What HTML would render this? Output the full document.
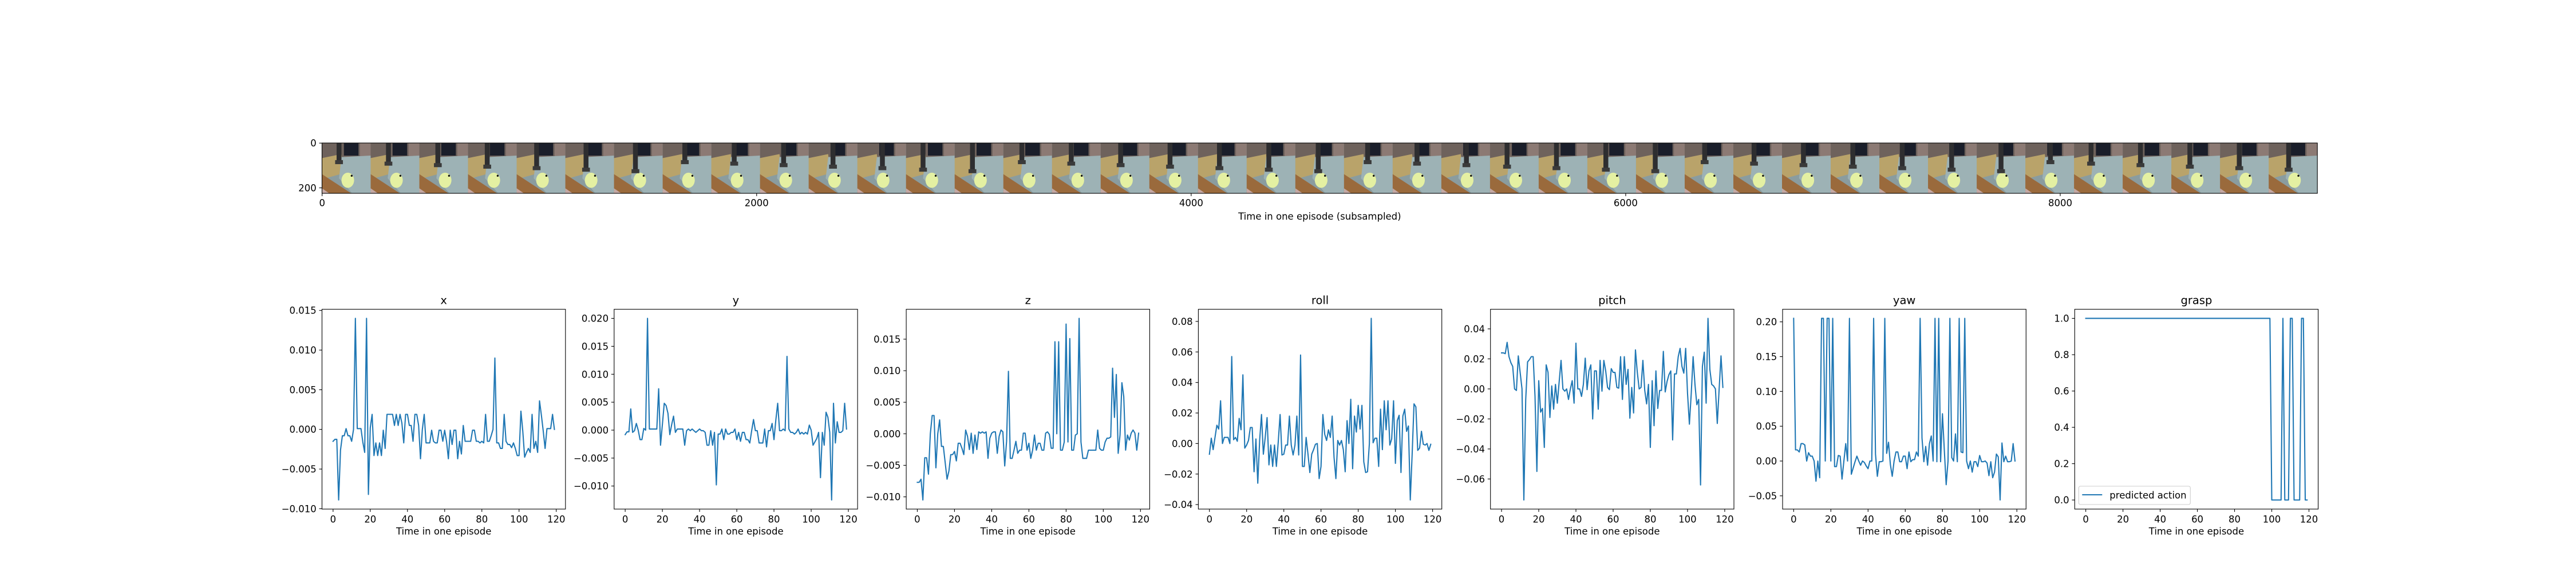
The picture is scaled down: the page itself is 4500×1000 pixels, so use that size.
<!DOCTYPE html>
<html><head><meta charset="utf-8">
<style>
html,body{margin:0;padding:0;background:#fff;}
svg{display:block;font-family:"DejaVu Sans","Liberation Sans",sans-serif;}
</style></head>
<body>
<svg id="fig" width="4500" height="1000" viewBox="0 0 4500 1000" xmlns="http://www.w3.org/2000/svg">
<rect width="4500" height="1000" fill="#fff"/>
<defs>
<clipPath id="stripClip"><rect x="562.5" y="250" width="3485.7" height="88"/></clipPath>
</defs>
<g id="strip"></g>
<g id="panels"></g>
</svg>
<script>
// ---------- data ----------
const panelTitles = ["x","y","z","roll","pitch","yaw","grasp"];
const xVals = [-1.5,-1.25,-1.25,-8.9,-2.6,-0.8,-0.8,0.1,-0.8,-0.8,-1.5,0,14,0.1,0.1,0.1,-1.6,-2.9,14,-8.2,0.2,1.9,-3.3,-1.7,-3.3,-1.7,-3.3,-0.1,-2.4,1.9,1.9,1.9,1.9,0.5,1.9,0.5,1.9,0.8,-1.7,1.9,1.9,0.5,0.5,-1.5,1.9,1.9,0.5,-3.7,0,1.9,-1.7,-1.7,-1.7,-0.1,-1.5,-1.7,-1.7,-0.1,-0.1,-1.5,-0.1,-1.5,-3.7,-0.1,-1.9,-0.1,-0.1,-3.7,-1.5,-3.1,0.5,-1.5,-1.5,-1.5,-1.5,-0.1,-0.1,-1.5,-1.5,-1.7,-1.5,-1.7,1.9,-1.5,-1.5,-0.8,0,9,-1.7,-1.7,-2.4,-2.4,1.9,-1.5,-1.9,-1.9,-2.3,-1.7,-2.4,-3.3,-3.3,2.3,-0.2,-3.5,-2.9,-2.4,-2.9,1.9,-2.4,-1.5,-2.9,3.6,1.8,-0.2,-2.4,0.1,0.1,0.1,1.9,0];
const yVals = [-0.8,-0.3,-0.3,3.8,-0.4,-0.1,1.2,0,-1.7,-1.7,0.3,0,20,0.2,0.2,0.2,0.2,0.2,7.4,-2.7,1,4.8,4.4,3,-0.8,1,2.5,-0.4,0.2,0.2,0.2,0.2,-2.7,-0.1,0.2,-0.1,0.2,-0.1,-0.4,-0.1,0.2,-0.1,-0.1,-0.4,-2.7,-2.7,-0.1,-2.7,-0.4,-9.8,-0.7,-0.7,0.2,-1.7,0.2,-0.7,-0.7,-0.4,-0.4,0.2,-1.7,-0.4,-2,-0.4,-0.4,-1.7,-1.7,-2.3,-0.1,1.9,-0.1,-0.1,-2.3,-2.3,-2.3,0.2,-3,-0.1,-0.1,1.2,-1.7,1.8,4.8,-0.1,-0.1,0.2,-0.1,13.2,0.2,-0.4,-0.4,-0.7,-0.4,0.2,-0.7,-0.4,-0.7,-0.4,-0.7,0.9,0,-2.7,-2.1,-1.5,-0.4,-8.5,-0.4,-2.7,3.2,2.3,-0.4,-12.5,4.8,-2.3,1.5,-0.4,-0.4,-0.1,4.8,0.2];
const zVals = [-7.7,-7.7,-7.2,-10.5,-3.8,-3.8,-6.4,0,2.9,2.9,-5.4,0,2.2,-2,-2,-4.6,-7.2,-5.9,-3.3,-3.3,-2.8,-4.3,-1.5,-1.5,-2.3,-3.3,0.6,-0.4,-2.5,0.1,-3.1,-0.2,-2.5,0.3,0.1,0.3,0.1,0.3,-3.9,-0.7,0.1,0.3,0.3,-3.1,-0.4,0.6,0.3,-5.1,-1.2,9.9,-3.9,-3.9,-2.6,-1.2,-3.1,-2.6,-2.6,0.1,0.1,-2.6,-1.5,-3.9,-2.6,-0.2,-2.6,-1.5,-1.5,-2.6,-2.6,0.1,0.3,-0.1,-2.3,-2.3,14.6,0,14.6,-2.6,-2.6,-1.3,17.4,-1.3,15.1,-2.6,-2.6,-0.2,0,18.3,-1.3,-3.9,-3.9,-3.9,-2.6,-2.6,-2.6,-2.6,-2.6,0.6,-2.3,-2.6,-2.6,-1.3,-0.7,-0.7,-0.5,10.4,2.6,9.4,-3.1,-0.2,8.1,5.9,-2.6,-0.2,-1,0.1,0.6,0.1,-2.6,0.1];
const rollVals = [-0.7,0.35,-0.4,0.4,1.2,0.95,2.8,0,0.4,0.4,0.4,0,5.7,0.25,0.4,0.15,1.65,0.9,4.5,-0.3,-0.1,0.2,1.05,1.05,-1.85,0.3,-2.6,0.2,1.9,-0.7,0.4,1.7,-1.4,-0.1,-1.5,-0.1,-1.5,0.1,1.9,-0.75,-0.7,-0.1,-0.1,1.8,-0.1,-0.75,-0.1,1.8,-0.75,5.8,-1.5,-1.5,0.4,-0.7,-1.9,-0.7,-0.4,-0.05,0,-2.3,-1.5,1.9,0.6,0.2,0.9,0.4,1.8,-0.9,-2.3,0.2,-0.1,0.2,-0.4,-1.85,1.5,0,2.9,-1.65,1.8,0.75,2.5,0.95,2.5,-1.2,-1.9,-1.85,0,8.2,0.05,0.35,0.35,-1.5,2.25,-0.4,2.8,0.9,2.8,-0.1,0.3,2.8,-1.3,1.5,1.85,-1.9,1.8,2.25,0.8,1.15,-3.7,-0.7,2.6,2.4,-0.45,-0.3,0.8,-0.05,-0.1,0,-0.45,-0.05];
const pitchVals = [2.4,2.4,2.35,3.1,2.15,1.75,1.5,0,-0.1,2.2,1.1,0,-7.4,-0.7,1.8,1.95,2.15,2.15,-0.5,-5.5,0.55,-1.55,-1.3,-3.9,1.6,1.1,-1.9,0.2,-1.35,0.3,-0.95,0.5,1.9,0,-0.15,0,-0.7,0,0.55,-0.95,3.05,0,0,-0.5,0.3,2.05,-0.05,1.2,1.6,-2,1.2,1.2,-1.35,1.9,-0.15,1.9,1.2,0.1,-0.05,1.35,1.1,1.1,0.1,0.05,2.15,-0.7,2.15,0.3,1.3,-1.95,0.1,-1.6,2.6,1.1,0,0.1,1.9,-0.1,-1,0.3,-3.9,0.55,-2.45,1.2,-1.3,-0.1,-0.1,2.5,-0.2,0.5,0.95,1.2,-3.4,1,1,2.15,2.7,1.5,1.05,2.7,-0.3,-2.35,-0.3,2.15,0.3,-1.05,-0.7,-6.4,1.5,2.45,-0.95,4.7,1.3,0.3,0.2,0,-2.3,0,2.2,0.1];
const yawVals = [20.5,1.6,1.6,1.3,2.5,2.5,2.3,0,1.2,0.7,0.7,0,-2.9,0,-2.4,20.5,20.5,0,20.5,20.5,0,20.5,-0.8,-0.8,0.8,0.7,-2.6,0,2.5,0,20.5,-1.9,-1,-0.1,0.7,0,-0.6,0,-0.2,-0.7,-1.1,0,0,20.5,1,-2.2,-0.1,-0.1,0,20.5,1.1,2.7,-0.5,-2.2,0,1.3,1.3,-0.1,-0.1,0.7,0.7,-1.1,1.3,-0.1,0.2,0.2,1.3,0.7,20.5,3.3,-0.1,2.1,-0.6,2.5,3.6,0,20.5,-0.1,20.5,-0.1,6.8,1.6,-3.4,0,20.5,0.5,0,3.9,-0.1,20.5,1.3,1.2,20.5,0,-1.1,0,-1.6,-0.1,-0.1,-0.8,0.8,-0.1,-0.1,0,-0.3,-2.1,-0.1,-2.4,-1.6,1,0.6,-5.6,2.6,-0.1,0.7,-0.1,-0.1,0,2.5,0];
const graspVals = [1,1,1,1,1,1,1,1,1,1,1,1,1,1,1,1,1,1,1,1,1,1,1,1,1,1,1,1,1,1,1,1,1,1,1,1,1,1,1,1,1,1,1,1,1,1,1,1,1,1,1,1,1,1,1,1,1,1,1,1,1,1,1,1,1,1,1,1,1,1,1,1,1,1,1,1,1,1,1,1,1,1,1,1,1,1,1,1,1,1,1,1,1,1,1,1,1,1,1,1,0,0,0,0,0,0,1,0,0,0,1,1,0,0,0,0,1,1,0,0];
const valueScales = [0.001,0.001,0.001,0.01,0.01,0.01,1];
const yTicks = [
  [-0.010,-0.005,0.000,0.005,0.010,0.015],
  [-0.010,-0.005,0.000,0.005,0.010,0.015,0.020],
  [-0.010,-0.005,0.000,0.005,0.010,0.015],
  [-0.04,-0.02,0.00,0.02,0.04,0.06,0.08],
  [-0.06,-0.04,-0.02,0.00,0.02,0.04],
  [-0.05,0.00,0.05,0.10,0.15,0.20],
  [0.0,0.2,0.4,0.6,0.8,1.0]
];
const yTickDecimals = [3,3,3,2,2,2,1];
const xTicks = [0,20,40,60,80,100,120];
const stripXTicks = [0,2000,4000,6000,8000];
const stripYTicks = [0,200];
const frameCount = 41;
const frameWidthPx = 224;
const frameHeightPx = 225;

// ---------- helpers ----------
const NS = "http://www.w3.org/2000/svg";
function mk(tag, attrs, parent){
  const e = document.createElementNS(NS, tag);
  for (const k in attrs) e.setAttribute(k, attrs[k]);
  if (parent) parent.appendChild(e);
  return e;
}
function fmt(v, d){ const s = Math.abs(v).toFixed(d); return (v < -1e-12 ? "\u2212" : "") + s; }
const FS = 16.5, TFS = 19.5, BLUE = "#1f77b4";

// ---------- image strip ----------
const strip = document.getElementById("strip");
const sL = 562.5, sT = 250, sW = 3485.7, sH = 88;
const sxMin = -0.5, sxMax = frameCount*frameWidthPx - 0.5, syMin = -0.5, syMax = frameHeightPx - 0.5;
const sx = v => sL + (v - sxMin)/(sxMax - sxMin)*sW;
const sy = v => sT + (v - syMin)/(syMax - syMin)*sH;
const fg = mk("g", {"clip-path":"url(#stripClip)"}, strip);
for (let f = 0; f < frameCount; f++){
  const x0 = sx(f*frameWidthPx - 0.5), w = sx((f+1)*frameWidthPx - 0.5) - x0;
  const g = mk("g", {transform:`translate(${x0},${sT}) scale(${w/100},${sH/100})`}, fg);
  
  
  mk("rect",{x:0,y:0,width:100,height:100,fill:"#8a9c9f"},g);
  mk("rect",{x:0,y:0,width:100,height:30,fill:"#6e625c"},g);
  mk("rect",{x:45,y:0,width:30,height:25,fill:"#1a1e2a"},g);
  mk("rect",{x:78,y:0,width:22,height:28,fill:"#8c7a74"},g);
  mk("polygon",{points:"0,30 40,22 45,60 0,72",fill:"#b9a36a"},g);
  mk("polygon",{points:"40,28 100,25 100,100 62,100 35,70",fill:"#9db2b5"},g);
  mk("polygon",{points:"0,62 60,100 0,100",fill:"#9a6a3c"},g);
  mk("polygon",{points:"0,90 15,100 0,100",fill:"#c4a8a4"},g);
  mk("ellipse",{cx:53,cy:74,rx:13,ry:15,fill:"#e4f0a2"},g);
  mk("circle",{cx:61,cy:65,r:2,fill:"#111"},g);
  const ax = 30 + (f%12)*1.5;
  mk("rect",{x:ax,y:0,width:10,height:40 + (f%7)*3,fill:"#2e2e30"},g);
  mk("rect",{x:ax-3,y:34 + (f%7)*3,width:16,height:8,fill:"#3a3a3a"},g);
}
mk("rect",{x:sL,y:sT,width:sW,height:sH,fill:"none",stroke:"#000","stroke-width":1.1},strip);
stripXTicks.forEach(t=>{
  const x = sx(t);
  const tk = mk("line",{x1:x,x2:x,y1:sT+sH,y2:sT+sH+4.9,stroke:"#000","stroke-width":1.1},strip);
  
  
  const tl = mk("text",{x:x,y:sT+sH+22.5,"font-size":FS,"text-anchor":"middle",fill:"#000"},strip);
  tl.textContent = String(t);
  
  
});
stripYTicks.forEach(t=>{
  const y = sy(t);
  mk("line",{x1:sL-4.9,x2:sL,y1:y,y2:y,stroke:"#000","stroke-width":1.1},strip);
  const tl = mk("text",{x:sL-9.7,y:y+6,"font-size":FS,"text-anchor":"end",fill:"#000"},strip);
  tl.textContent = String(t);
  
  
});
const sxl = mk("text",{x:sL+sW/2,y:384,"font-size":FS,"text-anchor":"middle",fill:"#000"},strip);
sxl.textContent = "Time in one episode (subsampled)";



// ---------- panels ----------
const series = [xVals,yVals,zVals,rollVals,pitchVals,yawVals,graspVals];
const panels = document.getElementById("panels");
const axTop = 540.7, axBot = 890, axW = 425.3;
series.forEach((vals, p) => {
  const left = 562.5 + p*510.3;
  const g = mk("g",{},panels);
  
  
  const data = vals.map(v => v*valueScales[p]);
  const n = data.length;
  const xmin = 0, xmax = n-1, xm = (xmax-xmin)*0.05;
  const dmin = Math.min(...data), dmax = Math.max(...data), ym = (dmax-dmin)*0.05;
  const X = v => left + (v - (xmin-xm))/((xmax+xm)-(xmin-xm))*axW;
  const Y = v => axBot - (v - (dmin-ym))/((dmax+ym)-(dmin-ym))*(axBot-axTop);
  const d = data.map((v,i)=>(i?"L":"M")+X(i).toFixed(2)+","+Y(v).toFixed(2)).join("");
  const line = mk("path",{d:d,fill:"none",stroke:BLUE,"stroke-width":2.08,"stroke-linejoin":"round","stroke-linecap":"square"},g);
  
  
  const frame = mk("rect",{x:left,y:axTop,width:axW,height:axBot-axTop,fill:"none",stroke:"#000","stroke-width":1.1},g);
  
  
  xTicks.forEach(t=>{
    const x = X(t);
    mk("line",{x1:x,x2:x,y1:axBot,y2:axBot+4.9,stroke:"#000","stroke-width":1.1},g);
    const tl = mk("text",{x:x,y:axBot+23.5,"font-size":FS,"text-anchor":"middle",fill:"#000"},g);
    tl.textContent = String(t);
    
    
  });
  yTicks[p].forEach(t=>{
    const y = Y(t);
    mk("line",{x1:left-4.9,x2:left,y1:y,y2:y,stroke:"#000","stroke-width":1.1},g);
    const tl = mk("text",{x:left-9.7,y:y+6,"font-size":FS,"text-anchor":"end",fill:"#000"},g);
    tl.textContent = fmt(t, yTickDecimals[p]);
    
    
  });
  const title = mk("text",{x:left+axW/2,y:axTop-9,"font-size":TFS,"text-anchor":"middle",fill:"#000"},g);
  title.textContent = panelTitles[p];
  
  
  const xl = mk("text",{x:left+axW/2,y:934.5,"font-size":FS,"text-anchor":"middle",fill:"#000"},g);
  xl.textContent = "Time in one episode";
  
  
  if (p === 6){
    const lg = mk("g",{},g);
    
    
    mk("rect",{x:left+7,y:850,width:195,height:32,rx:3,fill:"#fff","fill-opacity":0.8,stroke:"#ccc","stroke-width":1.1},lg);
    mk("line",{x1:left+13,x2:left+48,y1:865,y2:865,stroke:BLUE,"stroke-width":2.08},lg);
    const lt = mk("text",{x:left+61,y:871.5,"font-size":FS,fill:"#000"},lg);
    lt.textContent = "predicted action";
    
    
  }
});
</script>
</body></html>
